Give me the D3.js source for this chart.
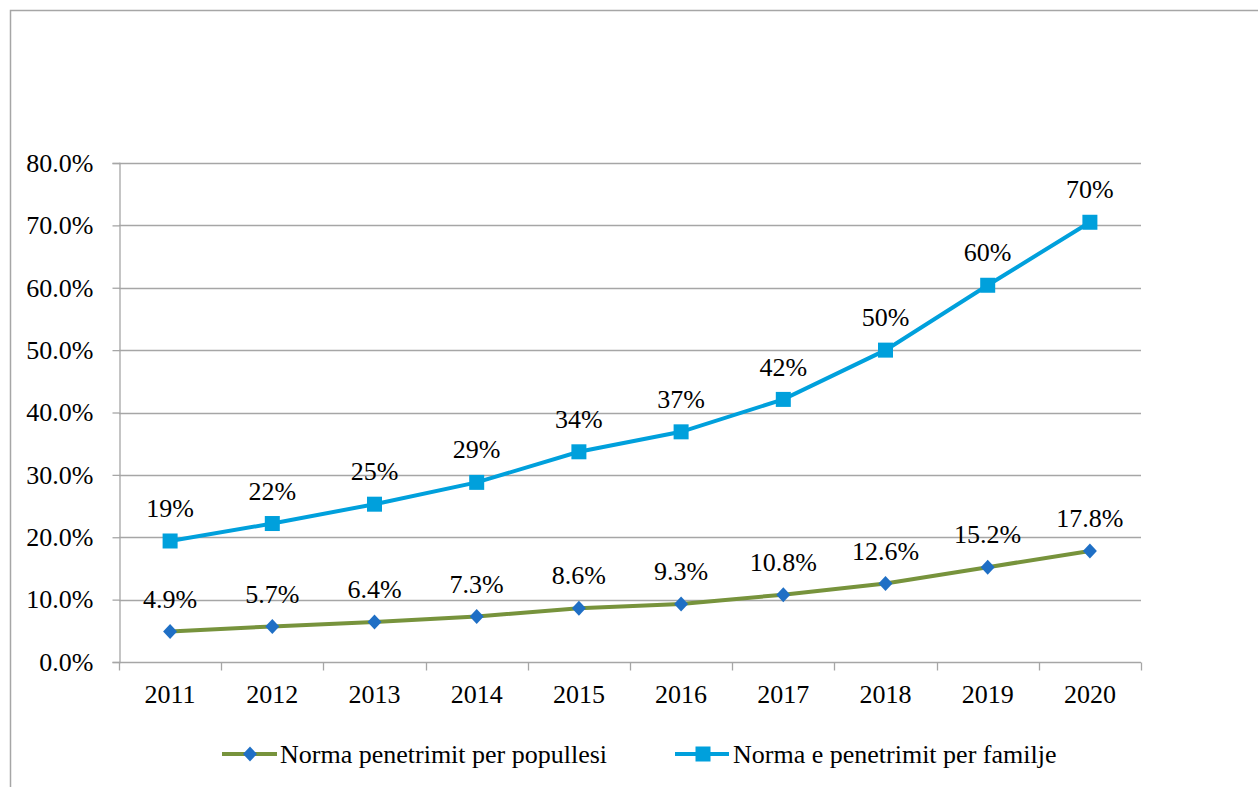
<!DOCTYPE html>
<html><head><meta charset="utf-8">
<script src="https://cdn.jsdelivr.net/npm/d3@7"></script>
<style>body{margin:0;background:#fff}svg{display:block}
text{font-family:"Liberation Serif","Times New Roman",Tinos,"DejaVu Serif",serif;font-size:26px;fill:#000}</style>
</head><body>
<svg id="c" width="1258" height="787"></svg>
<script>
const years = ["2011","2012","2013","2014","2015","2016","2017","2018","2019","2020"];
const population = [4.9, 5.7, 6.4, 7.3, 8.6, 9.3, 10.8, 12.6, 15.2, 17.8];
const family = [19.4, 22.2, 25.3, 28.8, 33.7, 36.9, 42.1, 50.0, 60.4, 70.5];
const familyLabels = ["19%","22%","25%","29%","34%","37%","42%","50%","60%","70%"];
const yTicks = [0,10,20,30,40,50,60,70,80];
const seriesNames = ["Norma penetrimit per populles" + "i", "Norma e penetrimit per familje"];

const svg = d3.select("#c");
const L = 119, R = 1141, T = 163, B = 662;
const x = d3.scaleBand().domain(years).range([L, R]);
const y = d3.scaleLinear().domain([0, 80]).range([B, T]);
const gridC = "#a6a6a6";

svg.append("rect").attr("x",10.5).attr("y",10.5).attr("width",1300).attr("height",900)
  .attr("fill","none").attr("stroke","#a6a6a6").attr("stroke-width",1.5);

svg.append("g").selectAll("line").data(yTicks.slice(1)).join("line")
  .attr("x1",L).attr("x2",R).attr("y1",d=>Math.round(y(d))+0.5).attr("y2",d=>Math.round(y(d))+0.5)
  .attr("stroke",gridC).attr("stroke-width",1.3);

const ya = svg.append("g").attr("transform",`translate(${L+0.5},0)`)
  .call(d3.axisLeft(y).tickValues(yTicks).tickSize(7).tickPadding(19).tickFormat(d=>d.toFixed(1)+"%"));
ya.attr("font-family",null).attr("font-size",null);
ya.select(".domain").attr("stroke",gridC).attr("stroke-width",1.3);
ya.selectAll(".tick line").attr("stroke",gridC).attr("stroke-width",1.3);
ya.selectAll("text").attr("fill","#000");

const xa = svg.append("g").attr("transform",`translate(0,${B+0.5})`);
xa.append("line").attr("x1",L).attr("x2",R).attr("stroke",gridC).attr("stroke-width",1.3);
const bounds = years.map(d=>x(d)).concat([R]);
xa.selectAll(".tk").data(bounds).join("line").attr("class","tk")
  .attr("x1",d=>Math.round(d)+0.5).attr("x2",d=>Math.round(d)+0.5).attr("y1",0).attr("y2",8)
  .attr("stroke",gridC).attr("stroke-width",1.3);
xa.selectAll("text").data(years).join("text")
  .attr("x",d=>x(d)+x.bandwidth()/2).attr("y",31).attr("dy","0.35em")
  .attr("text-anchor","middle").text(d=>d);

const cx = d => x(d)+x.bandwidth()/2;
const green = "#77933c", diamondC = "#1f6fc5", blue = "#00a0dc";

svg.append("path").datum(population)
  .attr("d", d3.line().x((d,i)=>cx(years[i])).y(d=>y(d)))
  .attr("fill","none").attr("stroke",green).attr("stroke-width",4);
svg.append("path").datum(family)
  .attr("d", d3.line().x((d,i)=>cx(years[i])).y(d=>y(d)))
  .attr("fill","none").attr("stroke",blue).attr("stroke-width",4);

function drawDiamond(g, px, py){
  g.append("path").attr("d","M0,-7.5L7,0L0,7.5L-7,0Z").attr("transform",`translate(${px},${py})`).attr("fill",diamondC);
}
const pg = svg.append("g");
population.forEach((v,i)=>drawDiamond(pg, cx(years[i]), y(v)));
svg.append("g").selectAll("rect").data(family).join("rect")
  .attr("x",(d,i)=>cx(years[i])-7.5).attr("y",d=>y(d)-7.5).attr("width",15).attr("height",15).attr("fill",blue);

svg.append("g").selectAll("text").data(population).join("text")
  .attr("x",(d,i)=>cx(years[i])).attr("y",d=>y(d)-33).attr("dy","0.35em")
  .attr("text-anchor","middle").text(d=>d.toFixed(1)+"%");
svg.append("g").selectAll("text").data(family).join("text")
  .attr("x",(d,i)=>cx(years[i])).attr("y",d=>y(d)-33).attr("dy","0.35em")
  .attr("text-anchor","middle").text((d,i)=>familyLabels[i]);

const ly = 754;
const lg = svg.append("g");
lg.append("line").attr("x1",222).attr("x2",277).attr("y1",ly).attr("y2",ly).attr("stroke",green).attr("stroke-width",4);
drawDiamond(lg, 250, ly);
lg.append("text").attr("x",280).attr("y",ly).attr("dy","0.35em").text(seriesNames[0]);
lg.append("line").attr("x1",675).attr("x2",729).attr("y1",ly).attr("y2",ly).attr("stroke",blue).attr("stroke-width",4);
lg.append("rect").attr("x",695.5).attr("y",ly-7.5).attr("width",15).attr("height",15).attr("fill",blue);
lg.append("text").attr("x",733).attr("y",ly).attr("dy","0.35em").text(seriesNames[1]);
</script>
</body></html>
